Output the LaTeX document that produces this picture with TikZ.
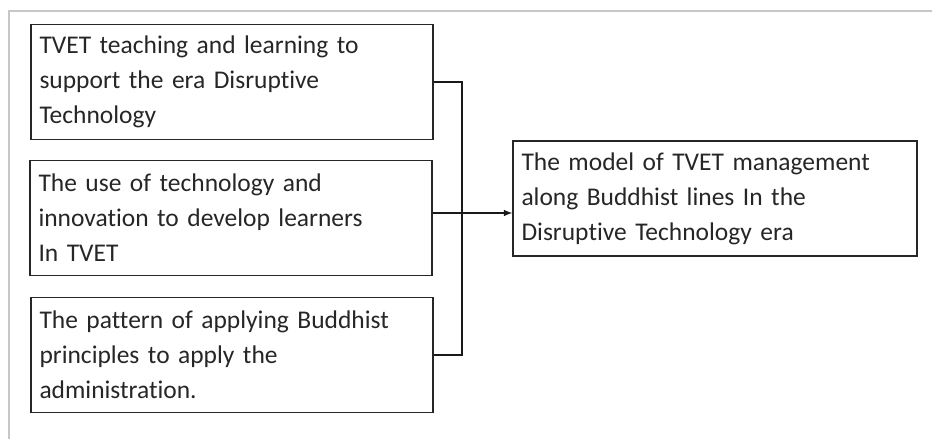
\documentclass[tikz,border=0pt]{standalone}
\usepackage{fontspec}
\setmainfont[Ligatures=NoCommon]{Carlito}
\usetikzlibrary{arrows}

\begin{document}
\begin{tikzpicture}[
		factor/.style={draw=black!85, line width=0.7pt, text width=7.7cm, minimum height=2.3cm,
			align=left, inner xsep=0.17cm, font=\fontsize{14.5}{19.9}\selectfont, text=black!85},
		link/.style={black!90, line width=0.7pt}]
		\useasboundingbox (0,0) rectangle (18.64,8.78);
		% outer frame, top and left only
		\draw[black!22, line width=1.4pt] (0.18,0) -- (0.18,8.56) -- (18.64,8.56);

		\node[factor] at (4.64,7.14)(b1){TVET teaching and learning to\\support the era Disruptive\\Technology};
		\node[factor] at (4.62,4.42)(b2){The use of technology and\\innovation to develop learners\\In TVET};
		\node[factor] at (4.64,1.68)(b3){The pattern of applying Buddhist\\principles to apply the\\administration.};

		\node[factor, text width=7.74cm] at (14.3,4.81)(model){The model of TVET management\\along Buddhist lines In the\\Disruptive Technology era};

		\coordinate (join) at (9.24,4.52);
		\draw[link] (b1.east) -| (join) |- (b3.east);
		\draw[link, -latex] (b2.east |- join) -- (model.west |- join);
	\end{tikzpicture}
\end{document}
